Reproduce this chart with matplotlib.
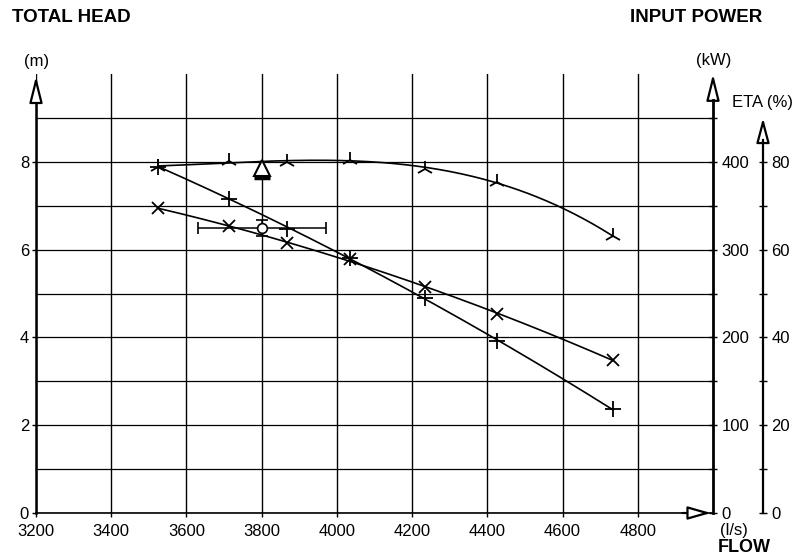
import numpy as np
import matplotlib
matplotlib.use("Agg")
import matplotlib.pyplot as plt

plt.rcParams["font.family"] = ["Liberation Sans", "DejaVu Sans"]

# Measured pump test points
flow = [3525, 3714, 3868, 4036, 4233, 4427, 4734]            # l/s
head = [7.89, 8.02, 8.00, 8.03, 7.84, 7.55, 6.30]             # m
power = [347, 327, 307, 289, 257, 227, 174]                   # kW
eta = [78.9, 71.6, 64.8, 58.2, 48.9, 39.1, 23.6]              # %

# Duty point with flow tolerance, and required head mark
duty_flow = 3800
duty_head = 6.5
duty_flow_err = 170
duty_head_err = 0.18
req_flow = 3800
req_head = 7.85

x_ticks = [3200, 3400, 3600, 3800, 4000, 4200, 4400, 4600, 4800]
head_ticks = [0, 2, 4, 6, 8]
power_ticks = [0, 100, 200, 300, 400]
eta_ticks = [0, 20, 40, 60, 80]

KW_PER_M = 50.0     # power scale: 100 kW per 2 m
PCT_PER_M = 10.0    # efficiency scale: 20 % per 2 m

fig = plt.figure(figsize=(8.01, 5.60), dpi=100)
L, R, B, T = 36 / 801, 713 / 801, 1 - 513 / 560, 1 - 74 / 560
ax = fig.add_axes([L, B, R - L, T - B])
ax.set_xlim(3200, 5000)
ax.set_ylim(0, 10)

for s in ("top", "right"):
    ax.spines[s].set_visible(False)
ax.spines["left"].set_bounds(0, 9.45)
ax.spines["left"].set_linewidth(1.8)
ax.spines["bottom"].set_linewidth(1.2)

ax.set_xticks(x_ticks)
ax.set_xticklabels([str(v) for v in x_ticks])
ax.set_yticks(head_ticks)
ax.set_yticks([1, 3, 5, 7, 9], minor=True)
ax.tick_params(axis="both", which="both", direction="out", length=3, width=1,
               labelsize=12, colors="black", pad=2)
ax.tick_params(axis="x", which="major", pad=5)
ax.tick_params(axis="y", which="minor", length=0)
ax.grid(True, axis="x", which="major", color="black", lw=1.0)
ax.grid(True, axis="y", which="both", color="black", lw=0.9)
ax.set_axisbelow(True)

# Curves: smooth fits through the test points
xs = np.linspace(min(flow), max(flow), 200)
ax.plot(xs, np.polyval(np.polyfit(flow, head, 3), xs), color="black", lw=1.2)
ax.plot(xs, np.polyval(np.polyfit(flow, np.array(power) / KW_PER_M, 2), xs),
        color="black", lw=1.2)
ax.plot(xs, np.polyval(np.polyfit(flow, np.array(eta) / PCT_PER_M, 2), xs),
        color="black", lw=1.2)

ax.plot(flow, head, ls="none", marker="2", ms=12, mew=1.3, color="black")
ax.plot(flow, np.array(power) / KW_PER_M, ls="none", marker="x", ms=8, mew=1.3,
        color="black")
ax.plot(flow, np.array(eta) / PCT_PER_M, ls="none", marker="+", ms=11, mew=1.3,
        color="black")

# Duty point with tolerance bars
ax.errorbar([duty_flow], [duty_head], xerr=[duty_flow_err], yerr=[duty_head_err],
            fmt="o", ms=7, mfc="white", mec="black", mew=1.2, ecolor="black",
            elinewidth=1.1, capsize=4, capthick=1.1)
ax.plot([duty_flow], [duty_head], marker="+", ms=7, mew=1, color="black")

# Required head mark
ax.plot([req_flow], [req_head], marker="^", ms=11, mfc="white", mec="black", mew=1.5)
ax.plot([req_flow], [req_head - 0.22], marker="_", ms=12, mew=2.5, color="black")

# Power axis (kW) on the right edge
axp = ax.twinx()
axp.set_ylim(0, 10 * KW_PER_M)
for s in ("top", "left", "bottom"):
    axp.spines[s].set_visible(False)
axp.spines["right"].set_bounds(0, 9.4 * KW_PER_M)
axp.spines["right"].set_linewidth(2.0)
axp.set_yticks(power_ticks)
axp.set_yticks([50, 150, 250, 350, 450], minor=True)
axp.tick_params(axis="y", which="major", direction="inout", length=6, width=1,
                labelsize=12, pad=3)
axp.tick_params(axis="y", which="minor", direction="inout", length=6, width=1)

# Efficiency axis (%) further right
axe = ax.twinx()
axe.set_ylim(0, 10 * PCT_PER_M)
for s in ("top", "left", "bottom"):
    axe.spines[s].set_visible(False)
axe.spines["right"].set_position(("axes", (763 - 36) / (713 - 36)))
axe.spines["right"].set_bounds(0, 8.5 * PCT_PER_M)
axe.spines["right"].set_linewidth(1.6)
axe.set_yticks(eta_ticks)
axe.set_yticks([10, 30, 50, 70], minor=True)
axe.tick_params(axis="y", which="major", direction="inout", length=6, width=1,
                labelsize=12, pad=3)
axe.tick_params(axis="y", which="minor", direction="inout", length=6, width=1)

# Hollow arrow heads on the axes
def arrow(a, start, end, hl, hw):
    a.annotate("", xy=end, xytext=start, xycoords=a.transAxes,
               textcoords=a.transAxes, annotation_clip=False,
               arrowprops=dict(arrowstyle=f"-|>,head_length={hl},head_width={hw}",
                               mutation_scale=1, fc="white", ec="black", lw=1.6,
                               shrinkA=0, shrinkB=0))

arrow(ax, (0, 0.94), (0, 0.995), 16, 4)
arrow(ax, (1, 0.94), (1, 1.0), 16, 4)
x_eta = (763 - 36) / (713 - 36)
arrow(ax, (x_eta, 0.85), (x_eta, 0.90), 15, 4)
arrow(ax, (0.955, 0), (0.997, 0), 14, 4)

# Titles and unit labels
fig.text(12 / 801, 1 - 18 / 560, "TOTAL HEAD", fontsize=13.5, fontweight="bold",
         va="center", ha="left")
fig.text(630 / 801, 1 - 18 / 560, "INPUT POWER", fontsize=13.5, fontweight="bold",
         va="center", ha="left")
fig.text(37 / 801, 1 - 61 / 560, "(m)", fontsize=12, va="center", ha="center")
fig.text(714 / 801, 1 - 60 / 560, "(kW)", fontsize=12, va="center", ha="center")
fig.text(763 / 801, 1 - 102 / 560, "ETA (%)", fontsize=12, va="center", ha="center")
fig.text(720 / 801, 1 - 531 / 560, "(l/s)", fontsize=12, va="center", ha="left")
fig.text(718 / 801, 1 - 547 / 560, "FLOW", fontsize=13, fontweight="bold",
         va="center", ha="left")

fig.savefig("out.png", dpi=100)
